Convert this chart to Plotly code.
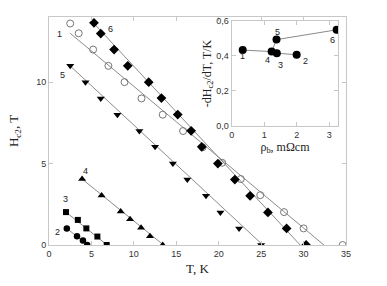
import plotly.graph_objects as go

# Main panel data: Hc2 (T) vs T (K)
T1 = [2.5, 3.5, 5.2, 7.0, 8.9, 10.9, 13.4, 15.8, 18.1, 20.4, 22.6, 24.9, 27.7, 30.0, 34.6]
H1 = [13.6, 13.0, 12.0, 11.0, 10.0, 9.0, 8.0, 7.0, 6.0, 5.05, 4.05, 3.06, 2.02, 1.02, 0.0]
T2 = [2.1, 3.3, 4.0, 4.5]
H2 = [1.02, 0.54, 0.27, 0.0]
T3 = [2.0, 3.4, 4.4, 5.7, 6.8]
H3 = [2.02, 1.54, 1.02, 0.52, 0.0]
T4 = [3.9, 6.2, 8.45, 9.55, 10.85, 11.9, 13.4]
H4 = [4.05, 3.04, 2.06, 1.58, 1.06, 0.54, 0.0]
T5 = [2.5, 4.3, 6.1, 8.06, 10.65, 12.5, 14.6, 16.3, 18.5, 20.2, 22.4, 25.0]
H5 = [11.0, 10.0, 9.0, 8.0, 7.0, 6.03, 5.0, 4.02, 3.02, 2.0, 1.02, 0.0]
T6 = [5.3, 6.1, 7.67, 9.28, 11.75, 13.25, 15.17, 16.75, 18.0, 19.9, 21.9, 23.7, 25.8, 28.0, 30.3]
H6 = [13.64, 12.98, 12.0, 11.0, 10.0, 9.02, 8.01, 7.01, 6.03, 5.0, 4.02, 3.02, 2.0, 1.02, 0.0]

# Linear fits (endpoints)
fitT1 = [2.5, 32.4]; fitH1 = [13.0, 0.0]
fitT2 = [2.1, 4.55]; fitH2 = [1.02, 0.0]
fitT3 = [2.0, 6.85]; fitH3 = [2.02, 0.0]
fitT4 = [3.9, 13.5]; fitH4 = [4.05, 0.0]
fitT5 = [2.28, 25.2]; fitH5 = [11.1, 0.0]
fitT6 = [5.0, 29.6]; fitH6 = [13.77, 0.0]

series_labels = ["1", "2", "3", "4", "5", "6"]
label_T = [1.22, 0.98, 1.97, 4.28, 1.6, 7.2]
label_H = [12.98, 0.77, 2.85, 4.53, 10.44, 13.25]

# Inset data: -dHc2/dT vs rho_b
rho = [0.34, 2.0, 1.39, 1.23, 1.38, 3.23]
slope = [0.434, 0.407, 0.416, 0.425, 0.494, 0.55]
inset_lab_x = [0.32, 2.26, 1.49, 1.1, 1.40, 3.1]
inset_lab_y = [0.398, 0.37, 0.35, 0.375, 0.539, 0.49]
lineA_x = [0.34, 1.23, 1.39, 2.0]; lineA_y = [0.434, 0.425, 0.416, 0.407]
lineB_x = [1.23, 1.38, 3.23]; lineB_y = [0.425, 0.494, 0.55]

fig = go.Figure()
line_style = dict(color="#8a8a8a", width=1)
for fx, fy in [(fitT1, fitH1), (fitT2, fitH2), (fitT3, fitH3), (fitT4, fitH4), (fitT5, fitH5), (fitT6, fitH6)]:
    fig.add_trace(go.Scatter(x=fx, y=fy, mode="lines", line=line_style, showlegend=False, hoverinfo="skip"))

fig.add_trace(go.Scatter(x=T1, y=H1, mode="markers", marker=dict(symbol="circle-open", size=7, color="#777", line=dict(width=1, color="#777")), showlegend=False))
fig.add_trace(go.Scatter(x=T2, y=H2, mode="markers", marker=dict(symbol="circle", size=6.5, color="black"), showlegend=False))
fig.add_trace(go.Scatter(x=T3, y=H3, mode="markers", marker=dict(symbol="square", size=6, color="black"), showlegend=False))
fig.add_trace(go.Scatter(x=T4, y=H4, mode="markers", marker=dict(symbol="triangle-up", size=7, color="black"), showlegend=False))
fig.add_trace(go.Scatter(x=T5, y=H5, mode="markers", marker=dict(symbol="triangle-down", size=7, color="black"), showlegend=False))
fig.add_trace(go.Scatter(x=T6, y=H6, mode="markers", marker=dict(symbol="diamond", size=7.5, color="black"), showlegend=False))

# Inset
fig.add_trace(go.Scatter(x=lineA_x, y=lineA_y, mode="lines", line=line_style, xaxis="x2", yaxis="y2", showlegend=False))
fig.add_trace(go.Scatter(x=lineB_x, y=lineB_y, mode="lines", line=line_style, xaxis="x2", yaxis="y2", showlegend=False))
fig.add_trace(go.Scatter(x=rho, y=slope, mode="markers", marker=dict(symbol="circle", size=8, color="black"), xaxis="x2", yaxis="y2", showlegend=False))

annotations = []
for lab, x, y in zip(series_labels, label_T, label_H):
    annotations.append(dict(x=x, y=y, xref="x", yref="y", text=lab, showarrow=False,
                            font=dict(family="Liberation Sans", size=9, color="#222")))
for lab, x, y in zip(series_labels, inset_lab_x, inset_lab_y):
    annotations.append(dict(x=x, y=y, xref="x2", yref="y2", text=lab, showarrow=False,
                            font=dict(family="Liberation Sans", size=9, color="#222")))

axis_common = dict(showline=True, mirror="ticks", linecolor="#c8c8c8", linewidth=1,
                   ticks="inside", ticklen=4, tickcolor="#c8c8c8", showgrid=False, zeroline=False,
                   tickfont=dict(family="Liberation Sans", size=9, color="#333"))

fig.update_layout(
    width=387, height=286,
    margin=dict(l=49, r=41, t=12, b=33),
    paper_bgcolor="white", plot_bgcolor="white",
    xaxis=dict(range=[0, 35], tickvals=[0, 5, 10, 15, 20, 25, 30, 35], domain=[0, 1],
               title=dict(text="T, K", font=dict(family="Liberation Serif", size=13, color="#222"), standoff=6),
               **axis_common),
    yaxis=dict(range=[0, 14], tickvals=[0, 5, 10], domain=[0, 1],
               title=dict(text="H<sub>c2</sub>, T", font=dict(family="Liberation Serif", size=13, color="#222"), standoff=14),
               **axis_common),
    xaxis2=dict(range=[0, 3.28], tickvals=[0, 1, 2, 3], domain=[0.615, 0.974], anchor="y2",
                title=dict(text="ρ<sub>b</sub>, mΩcm", font=dict(family="Liberation Serif", size=12, color="#222"), standoff=2),
                **axis_common),
    yaxis2=dict(range=[0, 0.6], tickvals=[0, 0.2, 0.4, 0.6], ticktext=["0,0", "0,2", "0,4", "0,6"],
                domain=[0.523, 0.982], anchor="x2",
                title=dict(text="-dH<sub>c2</sub>/dT, T/K", font=dict(family="Liberation Serif", size=12, color="#222"), standoff=2),
                **axis_common),
    annotations=annotations,
)

fig.write_html("out.html", config={"displayModeBar": False},
               post_script="document.body.style.margin='0px';")
